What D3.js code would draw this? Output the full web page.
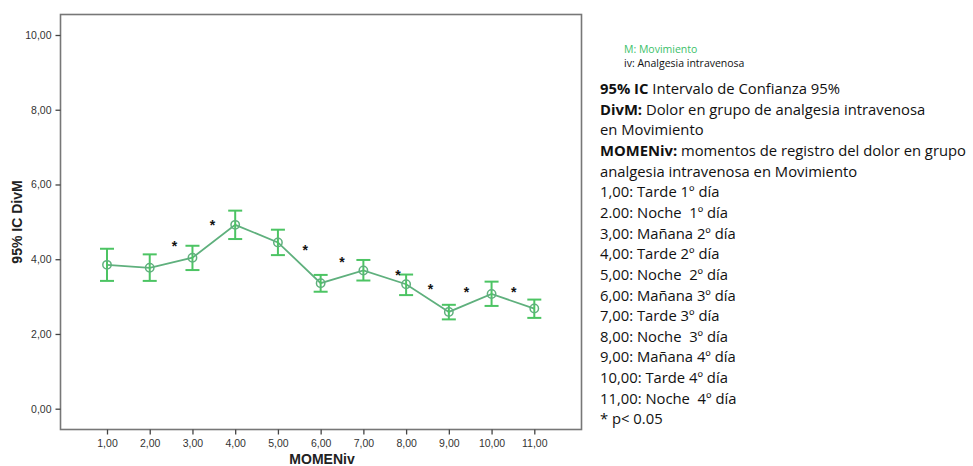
<!DOCTYPE html>
<html><head><meta charset="utf-8">
<script src="https://cdn.jsdelivr.net/npm/d3@7"></script>
<style>body{margin:0;background:#fff}svg{display:block}</style>
</head><body>
<script>
const moments = [1,2,3,4,5,6,7,8,9,10,11];
const means  = [3.85,3.77,4.04,4.92,4.45,3.36,3.70,3.33,2.59,3.07,2.68];
const lower  = [3.42,3.42,3.71,4.54,4.11,3.13,3.43,3.04,2.39,2.75,2.43];
const upper  = [4.28,4.13,4.36,5.30,4.79,3.58,3.98,3.59,2.78,3.40,2.92];
const starX  = [2.58,3.47,5.64,6.50,7.81,8.57,9.41,10.52];
const starY  = [4.43,4.97,4.31,3.99,3.64,3.27,3.19,3.19];
const yTicks = [0,2,4,6,8,10];
const xTickLabels = ["1,00","2,00","3,00","4,00","5,00","6,00","7,00","8,00","9,00","10,00","11,00"];
const legendLines = [
  [["95% IC",true],[" Intervalo de Confianza 95%",false]],
  [["DivM:",true],[" Dolor en grupo de analgesia intravenosa",false]],
  [["en Movimiento",false]],
  [["MOMENiv:",true],[" momentos de registro del dolor en grupo",false]],
  [["analgesia intravenosa en Movimiento",false]],
  [["1,00: Tarde 1º día",false]],
  [["2.00: Noche  1º día",false]],
  [["3,00: Mañana 2º día",false]],
  [["4,00: Tarde 2º día",false]],
  [["5,00: Noche  2º día",false]],
  [["6,00: Mañana 3º día",false]],
  [["7,00: Tarde 3º día",false]],
  [["8,00: Noche  3º día",false]],
  [["9,00: Mañana 4º día",false]],
  [["10,00: Tarde 4º día",false]],
  [["11,00: Noche  4º día",false]],
  [["* p< 0.05",false]]
];

const W = 973, H = 466;
const svg = d3.select("body").append("svg").attr("width", W).attr("height", H);

const frame = {left:60.5, right:581.5, top:14.5, bottom:429.5};
const x = d3.scaleLinear().domain([1,11]).range([107,534.3]);
const y = d3.scaleLinear().domain([0,10]).range([408.7,35]);

// frame
svg.append("rect").attr("x",frame.left).attr("y",frame.top)
  .attr("width",frame.right-frame.left).attr("height",frame.bottom-frame.top)
  .attr("fill","none").attr("stroke","#777").attr("stroke-width",1.6);

// y axis
const yAxis = svg.append("g").attr("transform",`translate(${frame.left},0)`)
  .call(d3.axisLeft(y).tickValues(yTicks).tickSize(5).tickSizeOuter(0).tickFormat(d=>d3.format(".2f")(d).replace(".",",")));
yAxis.select(".domain").remove();
yAxis.selectAll("line").attr("stroke","#444").attr("stroke-width",1.3);
yAxis.selectAll("text").attr("font-family","Liberation Sans, Arial, sans-serif").attr("font-size",10.5).attr("fill","#333").attr("dx",-1);

// x axis
const xAxis = svg.append("g").attr("transform",`translate(0,${frame.bottom})`)
  .call(d3.axisBottom(x).tickValues(moments).tickSize(5).tickSizeOuter(0).tickFormat((d,i)=>xTickLabels[i]));
xAxis.select(".domain").remove();
xAxis.selectAll("line").attr("stroke","#444").attr("stroke-width",1.3);
xAxis.selectAll("text").attr("font-family","Liberation Sans, Arial, sans-serif").attr("font-size",10.5).attr("fill","#333").attr("dy","0.95em");

// axis titles
svg.append("text").attr("x",322).attr("y",464).attr("text-anchor","middle")
  .attr("font-family","Liberation Sans, Arial, sans-serif").attr("font-weight","bold").attr("font-size",14).attr("fill","#222").text("MOMENiv");
svg.append("text").attr("transform","translate(22,222) rotate(-90)").attr("text-anchor","middle")
  .attr("font-family","Liberation Sans, Arial, sans-serif").attr("font-weight","bold").attr("font-size",14).attr("fill","#222").text("95% IC DivM");

// line
const lineCol = "#5fb07d", barCol = "#4cc463";
svg.append("path").datum(moments.map((m,i)=>[m,means[i]]))
  .attr("d", d3.line().x(d=>x(d[0])).y(d=>y(d[1])))
  .attr("fill","none").attr("stroke",lineCol).attr("stroke-width",1.8);

// error bars
const eb = svg.append("g").attr("stroke",barCol).attr("stroke-width",2).attr("fill","none");
moments.forEach((m,i)=>{
  const cx = x(m);
  eb.append("line").attr("x1",cx).attr("x2",cx).attr("y1",y(lower[i])).attr("y2",y(upper[i]));
  eb.append("line").attr("x1",cx-7).attr("x2",cx+7).attr("y1",y(lower[i])).attr("y2",y(lower[i]));
  eb.append("line").attr("x1",cx-7).attr("x2",cx+7).attr("y1",y(upper[i])).attr("y2",y(upper[i]));
});
svg.append("g").selectAll("circle").data(moments).join("circle")
  .attr("cx",d=>x(d)).attr("cy",(d,i)=>y(means[i])).attr("r",4.2)
  .attr("fill","none").attr("stroke",lineCol).attr("stroke-width",1.5);

// significance asterisks
svg.append("g").selectAll("text").data(starX).join("text")
  .attr("x",d=>x(d)).attr("y",(d,i)=>y(starY[i])+7.5).attr("text-anchor","middle")
  .attr("font-family","Liberation Sans, Arial, sans-serif").attr("font-weight","bold").attr("font-size",14).attr("fill","#111").text("*");

// legend
const fam = "'Open Sans', Lato, sans-serif";
svg.append("text").attr("x",624).attr("y",53).attr("font-family",fam).attr("font-size",10.5).attr("fill","#3cbf6a").text("M: Movimiento");
svg.append("text").attr("x",624).attr("y",67).attr("font-family",fam).attr("font-size",10.5).attr("fill","#111").text("iv: Analgesia intravenosa");

const lg = svg.append("g");
legendLines.forEach((parts,i)=>{
  const t = lg.append("text").attr("x",600).attr("y",94+i*20.65).attr("font-family",fam).attr("font-size",14.8).attr("fill","#111").attr("xml:space","preserve");
  parts.forEach(p=>t.append("tspan").attr("font-weight",p[1]?"bold":"normal").text(p[0]));
});
</script>
</body></html>
